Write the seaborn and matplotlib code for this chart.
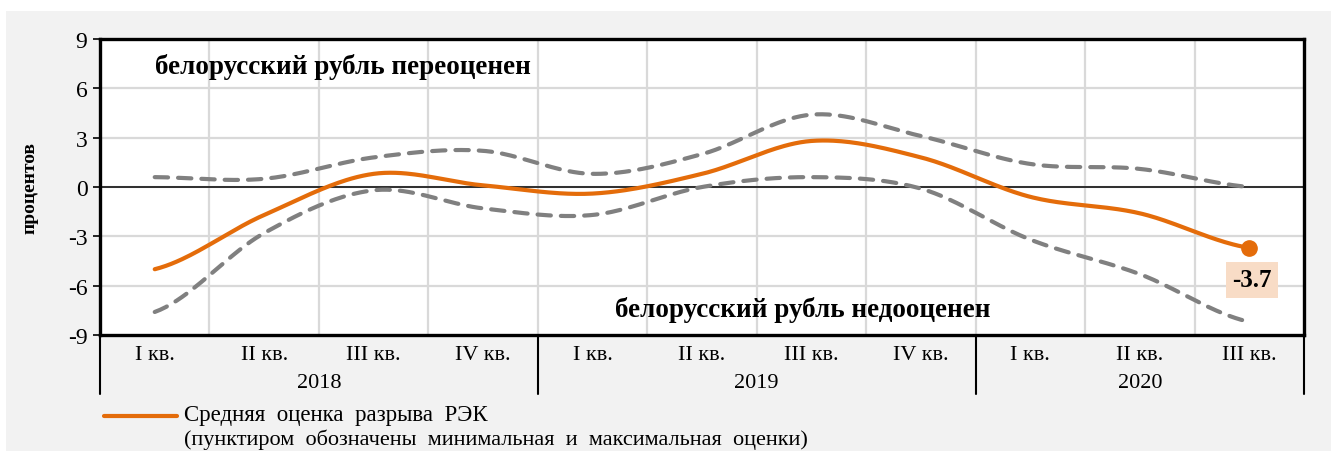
import numpy as np
import pandas as pd
import matplotlib
matplotlib.use('Agg')
import matplotlib.pyplot as plt
from matplotlib.lines import Line2D
from matplotlib.patches import Rectangle
import seaborn as sns

# Data
quarters = ['I кв.', 'II кв.', 'III кв.', 'IV кв.',
            'I кв.', 'II кв.', 'III кв.', 'IV кв.',
            'I кв.', 'II кв.', 'III кв.']
years = ['2018', '2019', '2020']
year_len = [4, 4, 3]
mean_gap = [-5.0, -1.7, 0.8, 0.1, -0.4, 0.8, 2.8, 1.8, -0.6, -1.6, -3.7]
max_gap = [0.6, 0.5, 1.8, 2.2, 0.8, 2.0, 4.4, 3.1, 1.4, 1.1, 0.0]
min_gap = [-7.6, -2.8, -0.2, -1.3, -1.7, 0.0, 0.6, -0.1, -3.2, -5.3, -8.2]

ORANGE = '#E46C0A'
GRAY = '#808080'


def smooth(vals, n=40):
    # Catmull-Rom spline, similar to Excel "smoothed line"
    v = np.asarray(vals, float)
    p = np.r_[v[0], v, v[-1]]
    xs, ys = [], []
    for i in range(len(v) - 1):
        p0, p1, p2, p3 = p[i:i + 4]
        t = np.linspace(0, 1, n, endpoint=False)
        yy = 0.5 * ((2 * p1) + (-p0 + p2) * t + (2 * p0 - 5 * p1 + 4 * p2 - p3) * t ** 2
                    + (-p0 + 3 * p1 - 3 * p2 + p3) * t ** 3)
        xs.append(i + t)
        ys.append(yy)
    xs.append([len(v) - 1])
    ys.append([v[-1]])
    return pd.DataFrame({'x': np.concatenate(xs), 'y': np.concatenate(ys)})


sns.set_style('white')
plt.rcParams['font.family'] = ['Liberation Serif', 'DejaVu Serif']
plt.rcParams['text.color'] = 'black'
plt.rcParams['ytick.color'] = 'black'
plt.rcParams['ytick.labelcolor'] = 'black'

W, H = 1331, 452
fig = plt.figure(figsize=(W / 100, H / 100), dpi=100)
fig.patch.set_facecolor('white')
fig.patches.append(Rectangle((6 / W, 0), 1 - 6 / W, 1 - 12 / H, transform=fig.transFigure,
                             facecolor='#f2f2f2', edgecolor='none', zorder=-10))

L, R, T, B = 100, 1304, 40, 336
ax = fig.add_axes([L / W, 1 - B / H, (R - L) / W, (B - T) / H])
ax.set_facecolor('white')

n = len(quarters)
ax.set_xlim(-0.5, n - 0.5)
ax.set_ylim(-9, 9)
ax.set_yticks(np.arange(-9, 10, 3))
ax.set_yticklabels([str(v) for v in range(-9, 10, 3)], fontsize=17, color='black')
ax.set_xticks([])
ax.tick_params(axis='y', direction='out', length=5, width=1.2, color='black', pad=4, left=True)

for yv in range(-6, 9, 3):
    ax.axhline(yv, color='#d9d9d9', lw=1.6, zorder=0)
for xv in np.arange(0.5, n - 0.5, 1):
    ax.axvline(xv, color='#d9d9d9', lw=1.6, zorder=0)
ax.axhline(0, color='black', lw=1.1, zorder=1)

for s in ax.spines.values():
    s.set_visible(True)
    s.set_color('black')
    s.set_linewidth(2.4)

# lines
for vals in (max_gap, min_gap):
    d = smooth(vals)
    sns.lineplot(data=d, x='x', y='y', ax=ax, color=GRAY, lw=3.0, sort=False,
                 estimator=None, linestyle=(0, (3.2, 2.4)), dash_capstyle='round', zorder=3)
d = smooth(mean_gap)
sns.lineplot(data=d, x='x', y='y', ax=ax, color=ORANGE, lw=3.0, sort=False,
             estimator=None, zorder=4)
ax.plot(n - 1, mean_gap[-1], 'o', color=ORANGE, ms=11, zorder=5, clip_on=False)
ax.annotate(f'{mean_gap[-1]:.1f}', (n - 1, mean_gap[-1]), xytext=(2, -23),
            textcoords='offset points', ha='center', va='center', fontsize=18,
            fontweight='bold', color='black',
            bbox=dict(boxstyle='square,pad=0.25', facecolor='#f8dcc6', edgecolor='none'))
ax.set_xlabel('')
ax.set_ylabel('')

ax.text((155 - L) / (R - L), 1 - (67 - T) / (B - T), 'белорусский рубль переоценен',
        transform=ax.transAxes, fontsize=19.5, fontweight='bold', va='center', ha='left')
ax.text((615 - L) / (R - L), 1 - (310 - T) / (B - T), 'белорусский рубль недооценен',
        transform=ax.transAxes, fontsize=19.5, fontweight='bold', va='center', ha='left')

# two-level category axis
trans = ax.get_xaxis_transform()
py = 1 / (B - T)  # one pixel in axes units
for i, q in enumerate(quarters):
    ax.text(i, -(355 - B) * py, q, transform=trans, ha='center', va='center',
            fontsize=16, clip_on=False)
start = 0
bounds = [-0.5]
for yr, k in zip(years, year_len):
    ax.text(start + (k - 1) / 2, -(383 - B) * py, yr, transform=trans, ha='center',
            va='center', fontsize=16, clip_on=False)
    start += k
    bounds.append(start - 0.5)
for bx in bounds:
    ax.add_line(Line2D([bx, bx], [0, -(395 - B) * py], transform=trans, color='black',
                       lw=1.5, clip_on=False))

fig.text(30 / W, 1 - 188 / H, 'процентов', rotation=90, ha='center', va='center',
         fontsize=14, fontweight='bold')

# legend
fig.add_artist(Line2D([104 / W, 177 / W], [1 - 417 / H, 1 - 417 / H], color=ORANGE, lw=3.0,
                      transform=fig.transFigure))
fig.text(184 / W, 1 - 416 / H, 'Средняя  оценка  разрыва  РЭК', ha='left', va='center',
         fontsize=16.5)
fig.text(184 / W, 1 - 440 / H,
         '(пунктиром  обозначены  минимальная  и  максимальная  оценки)',
         ha='left', va='center', fontsize=16)

fig.savefig('out.png', dpi=100)
